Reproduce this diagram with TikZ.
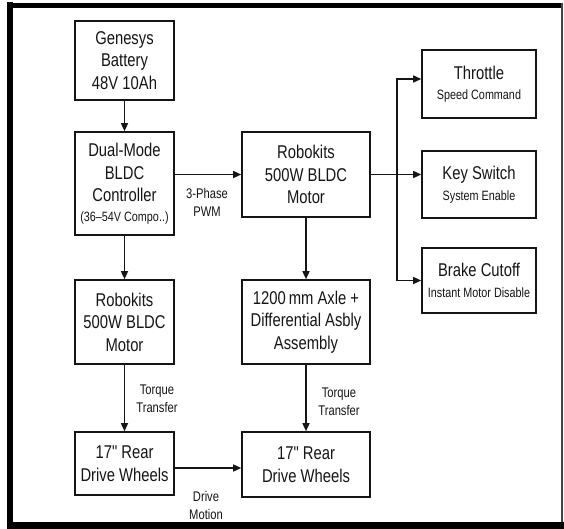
\documentclass[tikz,border=0pt]{standalone}
\usepackage{fontspec}
\setmainfont{Liberation Sans}[FakeStretch=0.8]
\newfontfamily\qfont{Liberation Sans}[FakeStretch=0.8]
\usetikzlibrary{arrows.meta}
\definecolor{ink}{HTML}{151515}
\newcommand{\smtxt}[1]{{\fontsize{13.5}{16}\selectfont #1}}
\tikzset{
  blk/.style={draw=ink, line width=1.6pt, fill=white, align=center, inner sep=0pt,
    font=\fontsize{18.5}{22.5}\selectfont, text=ink},
  arr/.style={draw=ink, line width=1.4pt, -{Triangle[length=8pt,width=7pt]}},
  lbl/.style={align=center, font=\fontsize{14}{18}\selectfont, text=ink, inner sep=0pt}
}
\begin{document}
\begin{tikzpicture}[x=1pt,y=-1pt]
\useasboundingbox (0,0) rectangle (564,529);
\fill[white] (0,0) rectangle (564,529);
% frame
\draw[line width=6pt] (10,2) -- (10,529);
\draw[line width=5pt] (7,5.5) -- (563,5.5);
\draw[line width=7pt] (7,525.5) -- (564,525.5);
\draw[line width=2pt, draw=ink!80] (562,3) -- (562,522);

% boxes
\node[blk, minimum width=99pt, minimum height=79pt] (bat) at (124.5,60.5)
  {Genesys\\Battery\\48V 10Ah};
\node[blk, minimum width=99pt, minimum height=103pt] (ctrl) at (124.5,183.5)
  {Dual-Mode\\BLDC\\Controller\\[-3pt]\smtxt{(36–54V Compo..)}};
\node[blk, minimum width=128pt, minimum height=85pt] (mot1) at (306,174.5)
  {Robokits\\500W BLDC\\Motor};
\node[blk, minimum width=114pt, minimum height=68pt] (thr) at (479,84)
  {Throttle\\[-2pt]\smtxt{Speed Command}};
\node[blk, minimum width=114pt, minimum height=67pt] (key) at (479,184.5)
  {Key Switch\\[-2pt]\smtxt{System Enable}};
\node[blk, minimum width=114pt, minimum height=65pt] (brk) at (479,280.5)
  {Brake Cutoff\\[-2pt]\smtxt{Instant Motor Disable}};
\node[blk, minimum width=99pt, minimum height=84pt] (mot2) at (124.5,322)
  {Robokits\\500W BLDC\\Motor};
\node[blk, minimum width=128pt, minimum height=84pt] (axle) at (306,322)
  {1200\,mm Axle +\\Differential Asbly\\Assembly};
\node[blk, minimum width=99pt, minimum height=63pt] (whl1) at (124.5,463.5)
  {17{\qfont"} Rear\\Drive Wheels};
\node[blk, minimum width=128pt, minimum height=65pt] (whl2) at (306,464.5)
  {17{\qfont"} Rear\\Drive Wheels};

% connectors
\draw[arr] (bat.south) -- (ctrl.north);
\draw[arr] (mot1.west -| ctrl.east) -- (mot1.west);
\draw[arr] (ctrl.south) -- (mot2.north);
\draw[arr] (mot1.south) -- (axle.north);
\draw[arr] (mot1.east) -- (mot1.east -| key.west);
\coordinate (jn) at (397,174.5);
\draw[arr] (jn) |- ([yshift=5pt]thr.west);
\draw[arr] (jn) |- (brk.west);
\draw[arr] (mot2.south) -- (whl1.north);
\draw[arr] (axle.south) -- (whl2.north);
\draw[arr] ([yshift=-4.5pt]whl1.east) -- ([yshift=-4.5pt]whl1.east -| whl2.west);

% labels
\node[lbl] (l1) at (207,202) {3-Phase\\PWM};
\node[lbl] (l2) at (157,398.5) {Torque\\Transfer};
\node[lbl] (l3) at (339,402) {Torque\\Transfer};
\node[lbl] (l4) at (206,505) {Drive\\Motion};
\end{tikzpicture}
\end{document}
